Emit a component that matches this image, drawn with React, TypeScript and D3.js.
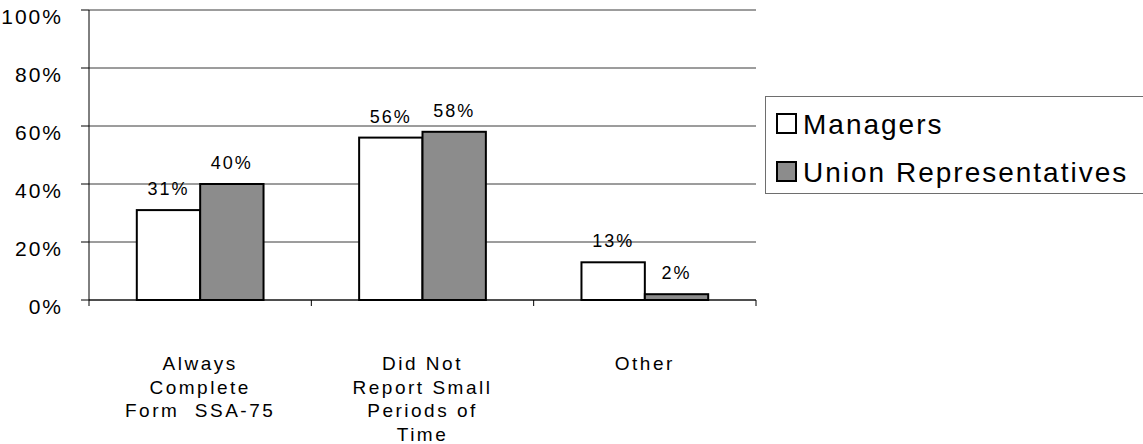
import * as d3 from "d3";

// categories (label lines) and values in percent
const categories = ["Always Complete Form SSA-75", "Did Not Report Small Periods of Time", "Other"];
const categoryLines = [
  ["Always", "Complete", "Form  SSA-75"],
  ["Did Not", "Report Small", "Periods of", "Time"],
  ["Other"],
];
const seriesNames = ["Managers", "Union Representatives"];
const managers = [31, 56, 13];
const unionReps = [40, 58, 2];
const yTicks = [0, 20, 40, 60, 80, 100];

const W = 1143;
const H = 444;
const PLOT = { left: 89, right: 756, top: 10, bottom: 300 };
const FILLS = ["#ffffff", "#8c8c8c"];
const FONT = "'Liberation Sans', Arial, sans-serif";

export default function App() {
  const y = d3.scaleLinear().domain([0, 100]).range([PLOT.bottom, PLOT.top]);
  const x = d3
    .scaleBand<string>()
    .domain(categories)
    .range([PLOT.left, PLOT.right])
    .paddingInner(0.43)
    .paddingOuter(0.215);
  const xs = d3.scaleBand<string>().domain(seriesNames).range([0, x.bandwidth()]);
  const step = x.step();
  const values = [managers, unionReps];

  // category boundaries for the bottom tick marks
  const bounds = d3.range(categories.length + 1).map((i) => PLOT.left + i * step);

  return (
    <svg
      width={W}
      height={H}
      style={{ position: "absolute", left: 0, top: 0, background: "#fff" }}
      fontFamily={FONT}
    >
      {/* horizontal gridlines */}
      {yTicks.map((t) => (
        <g key={t}>
          <line x1={PLOT.left} x2={PLOT.right} y1={y(t)} y2={y(t)} stroke="#3a3a3a" strokeWidth={1} />
          <line x1={PLOT.left - 8} x2={PLOT.left} y1={y(t)} y2={y(t)} stroke="#000" strokeWidth={1} />
          <text
            x={63}
            y={y(t) + 14}
            textAnchor="end"
            fontSize={21}
            letterSpacing={2}
            fill="#000"
          >
            {t}%
          </text>
        </g>
      ))}

      {/* y axis */}
      <line x1={PLOT.left} x2={PLOT.left} y1={PLOT.top} y2={PLOT.bottom + 6} stroke="#000" />

      {/* bars */}
      {values.map((vals, si) =>
        categories.map((c, ci) => {
          const bx = (x(c) ?? 0) + (xs(seriesNames[si]) ?? 0);
          const bw = xs.bandwidth();
          return (
            <g key={`${si}-${ci}`}>
              <rect
                x={bx}
                y={y(vals[ci])}
                width={bw}
                height={y(0) - y(vals[ci])}
                fill={FILLS[si]}
                stroke="#000"
                strokeWidth={2}
              />
              <text
                x={bx + bw / 2}
                y={y(vals[ci]) - 15}
                textAnchor="middle"
                fontSize={18}
                letterSpacing={2}
                fill="#000"
              >
                {vals[ci]}%
              </text>
            </g>
          );
        })
      )}

      {/* x axis */}
      <line x1={PLOT.left} x2={PLOT.right} y1={PLOT.bottom} y2={PLOT.bottom} stroke="#000" />
      {bounds.slice(1).map((bx, i) => (
        <line key={i} x1={bx} x2={bx} y1={PLOT.bottom} y2={PLOT.bottom + 6} stroke="#000" />
      ))}
      {categories.map((c, ci) => (
        <text
          key={c}
          x={(x(c) ?? 0) + x.bandwidth() / 2}
          y={370}
          textAnchor="middle"
          fontSize={19}
          letterSpacing={2.5}
          fill="#000"
        >
          {categoryLines[ci].map((line, li) => (
            <tspan key={li} x={(x(c) ?? 0) + x.bandwidth() / 2} dy={li === 0 ? 0 : 23.5} style={{ whiteSpace: "pre" }}>
              {line}
            </tspan>
          ))}
        </text>
      ))}

      {/* legend */}
      <rect x={765.5} y={96.5} width={390} height={97} fill="#fff" stroke="#6e6e6e" strokeWidth={1} />
      {seriesNames.map((s, i) => (
        <g key={s}>
          <rect x={777} y={114 + i * 48} width={19} height={19} fill={FILLS[i]} stroke="#000" strokeWidth={2} />
          <text x={803} y={134 + i * 48} fontSize={28} letterSpacing={2} fill="#000">
            {s}
          </text>
        </g>
      ))}
    </svg>
  );
}
